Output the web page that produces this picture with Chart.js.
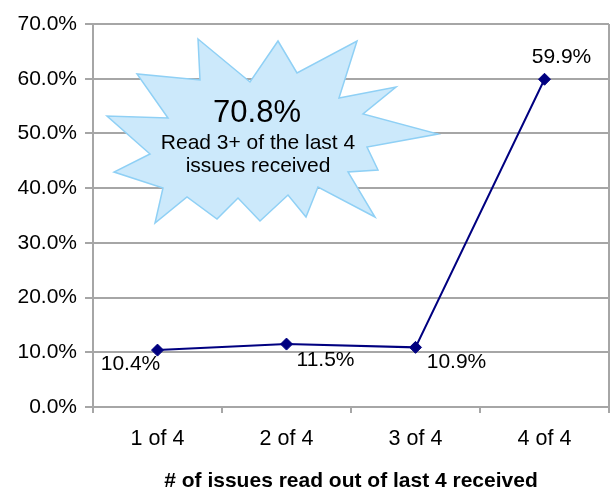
<!DOCTYPE html>
<html>
<head>
<meta charset="utf-8">
<script src="https://cdn.jsdelivr.net/npm/chart.js@4.4.0/dist/chart.umd.min.js"></script>
<style>
  html, body { margin: 0; padding: 0; background: #fff; }
  #wrap { width: 610px; height: 491px; }
</style>
</head>
<body>
<div id="wrap"><canvas id="lineChart" width="610" height="491"></canvas></div>
<script>
const categories = ["1 of 4", "2 of 4", "3 of 4", "4 of 4"];
const readShare = [10.4, 11.5, 10.9, 59.9];
const yTicks = [0, 10, 20, 30, 40, 50, 60, 70];
const calloutLines = ["70.8%", "Read 3+ of the last 4", "issues received"];

const grey = "#a6a6a6";
const navy = "#000080";
const font = "'Liberation Sans', Arial, sans-serif";

// label offsets from each point, px
const labelOffsets = [[-27, 14], [39, 16], [41, 15], [17, -22]];

// starburst outline, px from top-left of plot area
const burst = [
    [105, 15], [157, 58], [185, 17], [204, 49], [264, 17], [246, 74], [303, 63], [270, 90],
    [345, 110], [274, 123], [285, 146], [255, 148], [282, 193], [225, 163], [213, 193], [195, 171],
    [167, 197], [145, 174], [124, 195], [94, 173], [62, 199], [70, 164], [21, 148], [57, 130],
    [14, 92], [75, 94], [44, 50], [107, 56]
];

const calloutPlugin = {
    id: "callout",
    beforeDatasetsDraw(chart) {
        const { ctx, chartArea } = chart;
        ctx.save();
        ctx.beginPath();
        burst.forEach(([x, y], i) => {
            const px = chartArea.left + x, py = chartArea.top + y;
            if (i === 0) ctx.moveTo(px, py); else ctx.lineTo(px, py);
        });
        ctx.closePath();
        ctx.fillStyle = "#cce9fb";
        ctx.fill();
        ctx.lineWidth = 1.5;
        ctx.strokeStyle = "#8fd0f5";
        ctx.stroke();
        ctx.fillStyle = "#000";
        ctx.textAlign = "center";
        ctx.textBaseline = "middle";
        ctx.font = "31px " + font;
        ctx.fillText(calloutLines[0], chartArea.left + 164, chartArea.top + 89);
        ctx.font = "21px " + font;
        ctx.fillText(calloutLines[1], chartArea.left + 165, chartArea.top + 119);
        ctx.fillText(calloutLines[2], chartArea.left + 165, chartArea.top + 142);
        ctx.restore();
    }
};

const labelPlugin = {
    id: "pointLabels",
    afterDatasetsDraw(chart) {
        const { ctx } = chart;
        const meta = chart.getDatasetMeta(0);
        ctx.save();
        ctx.font = "21px " + font;
        ctx.fillStyle = "#000";
        ctx.textAlign = "center";
        ctx.textBaseline = "middle";
        meta.data.forEach((pt, i) => {
            const [dx, dy] = labelOffsets[i];
            ctx.fillText(readShare[i].toFixed(1) + "%", pt.x + dx, pt.y + dy);
        });
        ctx.restore();
    }
};

const line = document.getElementById("lineChart").getContext("2d");
new Chart(line, {
    type: "line",
    data: {
        labels: categories,
        datasets: [
            {
                label: "Read",
                data: readShare,
                borderColor: navy,
                backgroundColor: navy,
                borderWidth: 2,
                pointStyle: "rectRot",
                pointRadius: 6,
                pointBorderWidth: 1,
                tension: 0,
            },
        ],
    },
    options: {
        responsive: false,
        animation: false,
        events: [],
        layout: { autoPadding: false, padding: { top: 24, right: 1, left: 0, bottom: 0 } },
        plugins: {
            legend: { display: false },
            tooltip: { enabled: false },
        },
        scales: {
            x: {
                offset: true,
                grid: {
                    offset: true,
                    drawOnChartArea: true,
                    color: (c) => (c.tick ? "transparent" : grey),
                    tickColor: grey,
                    lineWidth: 2,
                    tickWidth: 2,
                    tickLength: 6,
                },
                border: { color: grey, width: 2 },
                ticks: {
                    color: "#000",
                    font: { family: font, size: 21.5 },
                    padding: 13,
                },
                title: {
                    display: true,
                    text: "# of issues read out of last 4 received",
                    color: "#000",
                    font: { family: font, size: 21, weight: "bold" },
                    padding: { top: 0, bottom: -3 },
                },
                afterFit: (scale) => {
                    scale.height = 84;
                    scale.paddingLeft = 0;
                    scale.paddingRight = 0;
                },
            },
            y: {
                min: yTicks[0],
                max: yTicks[yTicks.length - 1],
                afterBuildTicks: (scale) => { scale.ticks = yTicks.map((v) => ({ value: v })); },
                grid: {
                    color: grey,
                    lineWidth: 2,
                    tickLength: 8,
                },
                border: { color: grey, width: 2 },
                ticks: {
                    color: "#000",
                    font: { family: font, size: 21 },
                    padding: 8,
                    callback: (v) => v.toFixed(1) + "%",
                },
                afterFit: (scale) => { scale.width = 93; },
            },
        },
    },
    plugins: [calloutPlugin, labelPlugin],
});
</script>
</body>
</html>
